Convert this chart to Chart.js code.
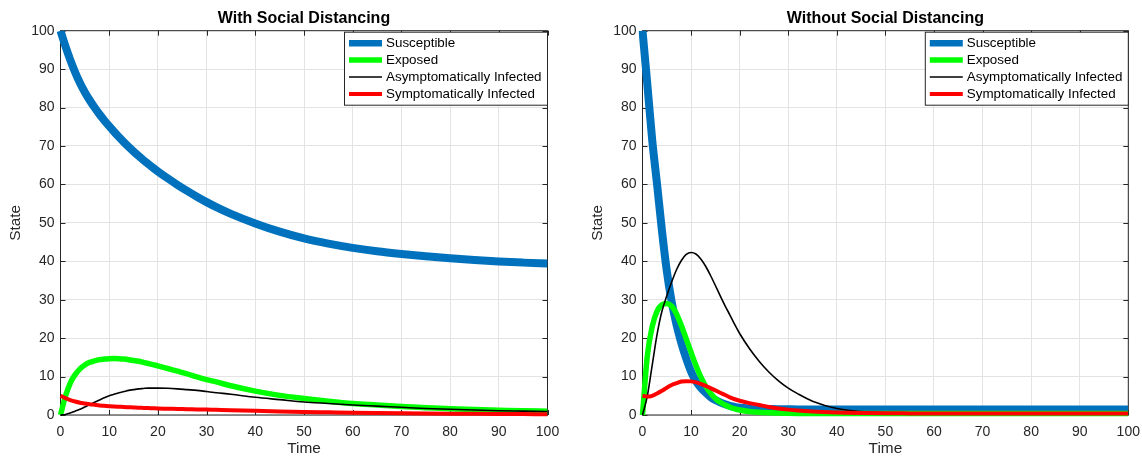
<!DOCTYPE html>
<html>
<head>
<meta charset="utf-8">
<title>With and without social distancing</title>
<script src="https://cdn.jsdelivr.net/npm/chart.js@4.4.1/dist/chart.umd.min.js"></script>
<style>
  html, body { margin: 0; padding: 0; background: #fff; }
  body { width: 1142px; height: 456px; position: relative; overflow: hidden; }
  .panel { position: absolute; top: 0; width: 560px; height: 456px; }
  #left-panel { left: 0; }
  #right-panel { left: 582px; }
</style>
</head>
<body>
<div class="panel" id="left-panel"><canvas id="chart-with" width="560" height="456"></canvas></div>
<div class="panel" id="right-panel"><canvas id="chart-without" width="560" height="456"></canvas></div>
<script>
// time points (days) shared by every series
const time = [0, 1, 2, 3, 4, 5, 6, 7, 8, 9, 10, 11, 12, 13, 14, 15, 16, 17, 18, 19, 20,
  22, 24, 26, 28, 30, 32, 35, 40, 45, 50, 55, 60, 65, 70, 75, 80, 85, 90, 95, 100];

const seriesNames = ['Susceptible', 'Exposed', 'Asymptomatically Infected', 'Symptomatically Infected'];
const timeTicks = [0, 10, 20, 30, 40, 50, 60, 70, 80, 90, 100];
const stateTicks = [0, 10, 20, 30, 40, 50, 60, 70, 80, 90, 100];

// with social distancing
const withS = [100, 96.0, 92.4, 89.2, 86.4, 84.0, 81.9, 80.0, 78.25, 76.65, 75.15, 73.7, 72.32, 71.01, 69.76, 68.57, 67.44, 66.36, 65.33, 64.34, 63.39,
  61.6, 59.9, 58.3, 56.8, 55.4, 54.1, 52.35, 49.85, 47.7, 45.95, 44.6, 43.5, 42.6, 41.9, 41.3, 40.8, 40.35, 39.95, 39.65, 39.4];
const withE = [0, 4.8, 8.3, 10.5, 12.0, 13.0, 13.7, 14.1, 14.4, 14.55, 14.65, 14.7, 14.65, 14.55, 14.4, 14.2, 14.0, 13.7, 13.4, 13.1, 12.8,
  12.1, 11.4, 10.7, 9.9, 9.2, 8.6, 7.6, 6.2, 5.1, 4.3, 3.6, 3.0, 2.6, 2.2, 1.9, 1.6, 1.4, 1.25, 1.1, 1.0];
const withA = [0, 0.15, 0.5, 1.0, 1.5, 2.1, 2.7, 3.3, 3.9, 4.5, 5.0, 5.4, 5.8, 6.1, 6.4, 6.6, 6.8, 6.9, 7.0, 7.0, 7.0,
  6.95, 6.8, 6.6, 6.4, 6.1, 5.8, 5.4, 4.6, 4.0, 3.4, 3.0, 2.6, 2.3, 2.0, 1.7, 1.5, 1.3, 1.1, 1.0, 0.9];
const withI = [5, 4.4, 3.9, 3.5, 3.2, 3.0, 2.8, 2.65, 2.5, 2.4, 2.3, 2.22, 2.15, 2.08, 2.02, 1.96, 1.9, 1.85, 1.8, 1.75, 1.7,
  1.64, 1.58, 1.52, 1.46, 1.4, 1.34, 1.25, 1.08, 0.93, 0.8, 0.7, 0.6, 0.52, 0.45, 0.39, 0.34, 0.3, 0.26, 0.23, 0.2];

// without social distancing
const withoutS = [100, 86, 71.5, 60, 48, 37.5, 29.5, 23.5, 18.7, 14.7, 11.3, 8.8, 7.1, 5.8, 4.7, 3.9, 3.3, 2.8, 2.4, 2.1, 1.9,
  1.7, 1.6, 1.55, 1.5, 1.48, 1.46, 1.45, 1.45, 1.45, 1.45, 1.45, 1.45, 1.45, 1.45, 1.45, 1.45, 1.45, 1.45, 1.45, 1.45];
const withoutE = [0, 15.5, 23, 27, 28.7, 29, 28.3, 26.3, 23.3, 19.8, 16.3, 12.9, 9.9, 7.5, 5.7, 4.3, 3.3, 2.6, 2.0, 1.6, 1.3,
  0.9, 0.7, 0.6, 0.5, 0.45, 0.42, 0.4, 0.4, 0.4, 0.4, 0.4, 0.4, 0.4, 0.4, 0.4, 0.4, 0.4, 0.4, 0.4, 0.4];
const withoutA = [0, 5, 13, 21, 27, 31, 34.6, 37.8, 40.2, 41.8, 42.3, 41.9, 40.6, 38.7, 36.3, 33.7, 31, 28.4, 26, 23.5, 21.2,
  17.3, 14.0, 11.2, 8.9, 7.0, 5.5, 3.6, 1.7, 0.9, 0.6, 0.45, 0.4, 0.4, 0.4, 0.4, 0.4, 0.4, 0.4, 0.4, 0.4];
const withoutI = [5, 4.8, 5.0, 5.6, 6.3, 7.1, 7.8, 8.3, 8.7, 8.8, 8.75, 8.5, 8.1, 7.6, 7.0, 6.4, 5.8, 5.2, 4.6, 4.1, 3.7,
  3.1, 2.6, 2.1, 1.7, 1.4, 1.15, 0.9, 0.65, 0.52, 0.45, 0.42, 0.4, 0.4, 0.4, 0.4, 0.4, 0.4, 0.4, 0.4, 0.4];

const FONT = '"Liberation Sans", Arial, Helvetica, sans-serif';
const AXIS_COLOR = '#262626';

const lineStyles = [
  { color: '#0072BD', width: 8 },
  { color: '#00FF00', width: 5.5 },
  { color: '#000000', width: 1.6 },
  { color: '#FF0000', width: 4 }
];

function toPoints(values) {
  return time.map((t, i) => ({ x: t, y: values[i] }));
}

// box round the axes with inward tick marks (matlab look)
const axesBox = {
  id: 'axesBox',
  beforeDatasetsDraw(chart) {
    const { ctx, chartArea: a, scales: { x, y } } = chart;
    ctx.save();
    ctx.strokeStyle = AXIS_COLOR;
    ctx.lineWidth = 1;
    ctx.strokeRect(a.left, a.top, a.right - a.left, a.bottom - a.top);
    ctx.beginPath();
    timeTicks.forEach(v => {
      const px = Math.round(x.getPixelForValue(v)) + 0.5;
      ctx.moveTo(px, a.bottom); ctx.lineTo(px, a.bottom - 5);
      ctx.moveTo(px, a.top); ctx.lineTo(px, a.top + 5);
    });
    stateTicks.forEach(v => {
      const py = Math.round(y.getPixelForValue(v)) + 0.5;
      ctx.moveTo(a.left, py); ctx.lineTo(a.left + 5, py);
      ctx.moveTo(a.right, py); ctx.lineTo(a.right - 5, py);
    });
    ctx.stroke();
    ctx.restore();
  }
};

const panelTitle = {
  id: 'panelTitle',
  afterDraw(chart, args, opts) {
    const { ctx, chartArea: a } = chart;
    ctx.save();
    ctx.font = 'bold 16px ' + FONT;
    ctx.fillStyle = '#000';
    ctx.textAlign = 'center';
    ctx.textBaseline = 'alphabetic';
    ctx.fillText(opts.text, (a.left + a.right) / 2, a.top - 7.5);
    ctx.restore();
  }
};

// legend box in the top right corner of the axes
const boxLegend = {
  id: 'boxLegend',
  afterDraw(chart) {
    const { ctx, chartArea: a } = chart;
    const w = 203, h = 73;
    const left = a.right - w, top = a.top + 1.5;
    ctx.save();
    ctx.fillStyle = '#fff';
    ctx.fillRect(left, top, w, h);
    ctx.strokeStyle = AXIS_COLOR;
    ctx.lineWidth = 1;
    ctx.strokeRect(left, top, w, h);
    ctx.font = '13.4px ' + FONT;
    ctx.textBaseline = 'middle';
    ctx.textAlign = 'left';
    chart.data.datasets.forEach((ds, i) => {
      const cy = top + 11 + i * 16.9;
      ctx.strokeStyle = ds.borderColor;
      ctx.lineWidth = Math.min(ds.borderWidth, 6.5);
      ctx.beginPath();
      ctx.moveTo(left + 4.5, cy);
      ctx.lineTo(left + 37.5, cy);
      ctx.stroke();
      ctx.fillStyle = '#000';
      ctx.fillText(ds.label, left + 41.5, cy);
    });
    ctx.restore();
  }
};

function makeChart(canvasId, titleText, seriesList, padRight) {
  const datasets = seriesList.map((values, i) => ({
    label: seriesNames[i],
    data: toPoints(values),
    borderColor: lineStyles[i].color,
    backgroundColor: lineStyles[i].color,
    borderWidth: lineStyles[i].width,
    pointRadius: 0,
    fill: false,
    cubicInterpolationMode: 'monotone',
    order: seriesList.length - i,
    clip: { left: 4, top: 0, right: 0, bottom: 4 }
  }));

  return new Chart(document.getElementById(canvasId), {
    type: 'line',
    data: { datasets },
    options: {
      responsive: false,
      animation: false,
      devicePixelRatio: 1,
      layout: { padding: { top: 30.7, right: padRight, bottom: 0, left: 0 } },
      plugins: {
        legend: { display: false },
        tooltip: { enabled: false },
        panelTitle: { text: titleText }
      },
      scales: {
        x: {
          type: 'linear',
          min: 0,
          max: 100,
          afterBuildTicks: scale => { scale.ticks = timeTicks.map(v => ({ value: v })); },
          afterFit: scale => {
            scale.height = 41;
            scale.paddingLeft = 0;
            scale.paddingRight = 0;
          },
          grid: { color: '#e3e3e3', drawTicks: false },
          border: { display: false },
          ticks: { color: AXIS_COLOR, padding: 9, maxRotation: 0, autoSkip: false, font: { family: FONT, size: 14 } },
          title: { display: true, text: 'Time', color: AXIS_COLOR, padding: { top: 0, bottom: 0 }, font: { family: FONT, size: 15.4, lineHeight: 1 } }
        },
        y: {
          min: 0,
          max: 100,
          afterBuildTicks: scale => { scale.ticks = stateTicks.map(v => ({ value: v })); },
          afterFit: scale => {
            scale.width = 60.5;
            scale.paddingTop = 0;
            scale.paddingBottom = 0;
          },
          grid: { color: '#e3e3e3', drawTicks: false },
          border: { display: false },
          ticks: { color: AXIS_COLOR, padding: 6, autoSkip: false, font: { family: FONT, size: 14 } },
          title: { display: true, text: 'State', color: AXIS_COLOR, padding: { top: 8.3, bottom: 0 }, font: { family: FONT, size: 15.4, lineHeight: 1 } }
        }
      }
    },
    plugins: [axesBox, panelTitle, boxLegend]
  });
}

makeChart('chart-with', 'With Social Distancing', [withS, withE, withA, withI], 12.5);
makeChart('chart-without', 'Without Social Distancing', [withoutS, withoutE, withoutA, withoutI], 13.7);
</script>
</body>
</html>
